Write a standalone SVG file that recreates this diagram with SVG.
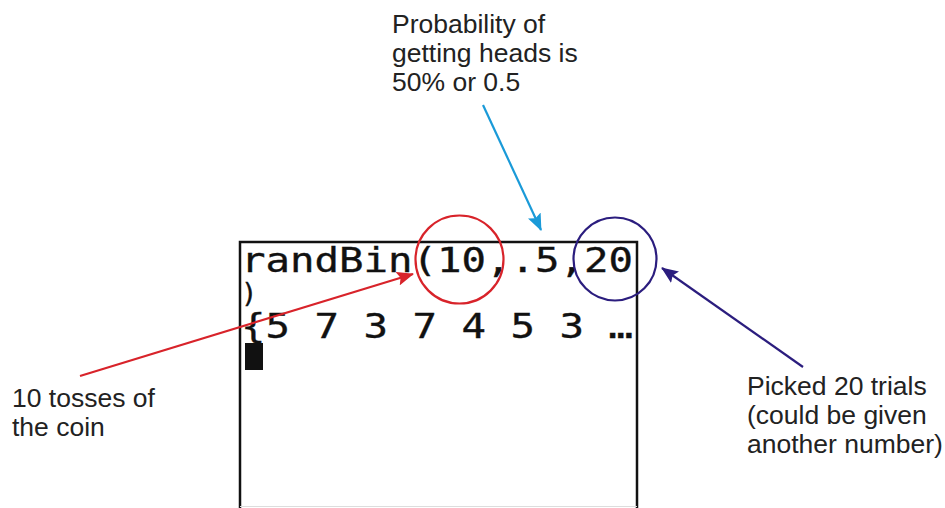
<svg xmlns="http://www.w3.org/2000/svg" width="945" height="508" viewBox="0 0 945 508">
<style>
.lbl{font-family:"Liberation Sans",Arial,sans-serif;font-size:26.5px;fill:#222}
.calc{font-family:"DejaVu Sans Mono","Liberation Mono",monospace;font-size:33px;fill:#111;stroke:#111;stroke-width:0.35}
</style>
<defs>
<marker id="hRed" markerWidth="17" markerHeight="14" refX="16" refY="7" orient="auto" markerUnits="userSpaceOnUse" viewBox="0 0 17 14"><path d="M0,0 L17,7 L0,14 L3,7 z" fill="#d8232a"/></marker>
<marker id="hBlue" markerWidth="17" markerHeight="14" refX="16" refY="7" orient="auto" markerUnits="userSpaceOnUse" viewBox="0 0 17 14"><path d="M0,0 L17,7 L0,14 L3,7 z" fill="#1a9ad8"/></marker>
<marker id="hNavy" markerWidth="17" markerHeight="14" refX="16" refY="7" orient="auto" markerUnits="userSpaceOnUse" viewBox="0 0 17 14"><path d="M0,0 L17,7 L0,14 L3,7 z" fill="#2b1d7e"/></marker>
</defs>
<rect width="945" height="508" fill="#fff"/>
<g id="screen">
<path d="M240,508 V242 H637 V508" fill="none" stroke="#111" stroke-width="2.5"/>
<line x1="240" y1="506.5" x2="637" y2="506.5" stroke="#ddd" stroke-width="1"/>
<text class="calc" x="241" y="272" textLength="392" lengthAdjust="spacingAndGlyphs">randBin(10,.5,20</text>
<text class="calc" x="241" y="302" style="font-size:27px">)</text>
<text class="calc" x="241" y="338" textLength="392" lengthAdjust="spacingAndGlyphs">{5 7 3 7 4 5 3 …</text>
<rect x="245" y="343" width="18" height="27" fill="#111"/>
</g>
<g id="circle-red"><circle cx="459.5" cy="259.5" r="44" fill="none" stroke="#d8232a" stroke-width="2.2"/></g>
<g id="circle-navy"><circle cx="615" cy="259" r="41.5" fill="none" stroke="#2b1d7e" stroke-width="2.2"/></g>
<g id="label-prob">
<text class="lbl" x="392" y="33">Probability of</text>
<text class="lbl" x="392" y="62">getting heads is</text>
<text class="lbl" x="392" y="91">50% or 0.5</text>
</g>
<g id="label-tosses">
<text class="lbl" x="12" y="407">10 tosses of</text>
<text class="lbl" x="12" y="436">the coin</text>
</g>
<g id="label-trials">
<text class="lbl" x="747" y="395">Picked 20 trials</text>
<text class="lbl" x="747" y="424">(could be given</text>
<text class="lbl" x="747" y="453">another number)</text>
</g>
<g id="connectors" fill="none" stroke-width="2.2">
<line x1="80" y1="376" x2="413" y2="274" stroke="#d8232a" marker-end="url(#hRed)"/>
<line x1="483" y1="105" x2="541" y2="230" stroke="#1a9ad8" marker-end="url(#hBlue)"/>
<line x1="803" y1="367" x2="662" y2="268" stroke="#2b1d7e" marker-end="url(#hNavy)"/>
</g>
</svg>
